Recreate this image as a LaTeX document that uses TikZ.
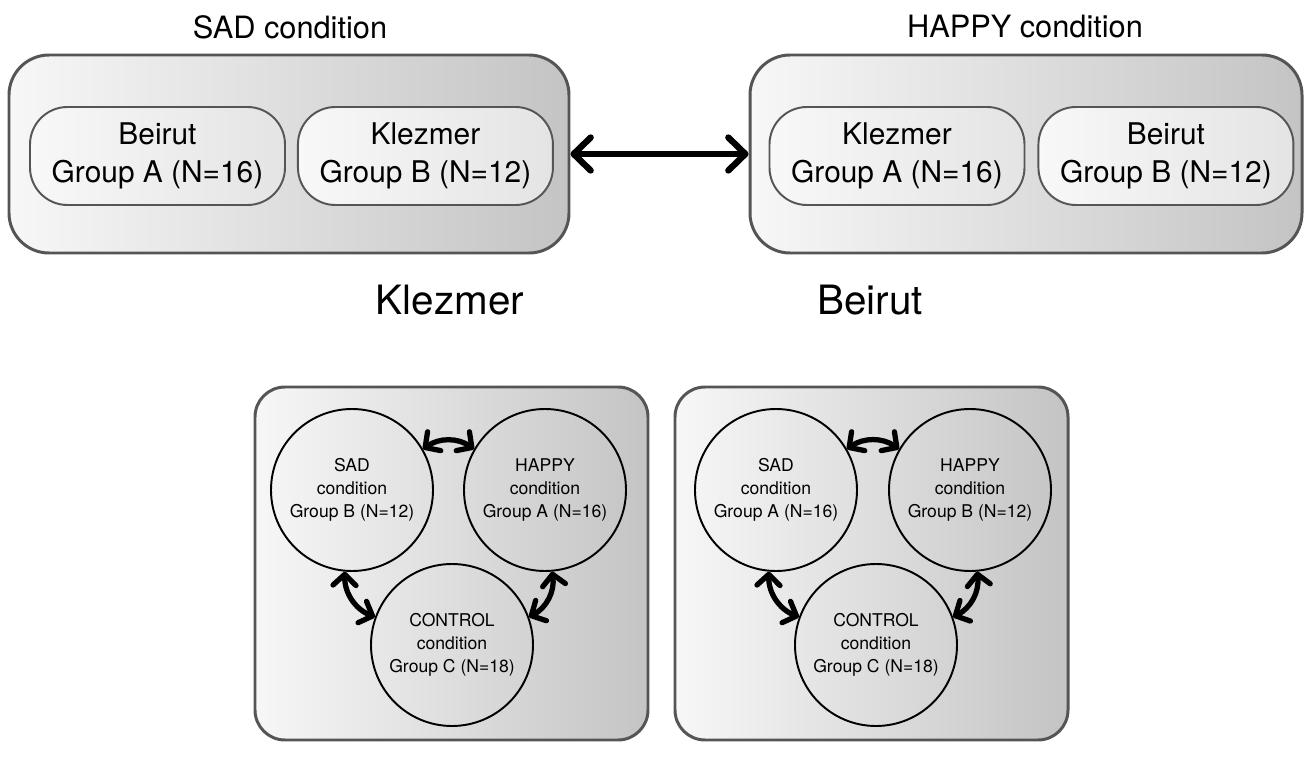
\documentclass[tikz,border=0pt]{standalone}
\usepackage{fontspec}
\setmainfont{TeX Gyre Heros}
\usetikzlibrary{positioning,arrows.meta}
\definecolor{boxline}{HTML}{555555}
\definecolor{boxlight}{HTML}{F7F7F7}
\definecolor{boxdark}{HTML}{C4C4C4}
\definecolor{pilllight}{HTML}{F8F8F8}
\definecolor{pilldark}{HTML}{E4E4E4}
\tikzset{
  condbox/.style={draw=boxline, line width=1.7pt, rounded corners=0.8cm,
    left color=boxlight, right color=boxdark,
    minimum width=11.2cm, minimum height=3.96cm},
  musicbox/.style={draw=boxline, line width=1.7pt, rounded corners=0.6cm,
    left color=boxlight, right color=boxdark,
    minimum width=7.86cm, minimum height=7.06cm},
  grouppill/.style={draw=boxline, line width=1.1pt, rounded corners=0.75cm,
    left color=pilllight, right color=pilldark, align=center,
    minimum width=5.1cm, minimum height=1.96cm, inner sep=0pt,
    font=\fontsize{17}{21.5}\selectfont},
  groupcirc/.style={circle, draw=black, line width=1.1pt, minimum size=3.24cm,
    inner sep=0pt, align=center, font=\fontsize{10}{13}\selectfont},
  condtitle/.style={font=\fontsize{17.5}{21}\selectfont},
  musictitle/.style={font=\fontsize{23}{28}\selectfont},
  bigarrow/.style={line width=3.6pt,
    {Straight Barb[length=0.34cm,width=0.66cm,round]}-{Straight Barb[length=0.34cm,width=0.66cm,round]}},
  looparrow/.style={line width=3pt,
    {Straight Barb[length=0.22cm,width=0.46cm,round]}-{Straight Barb[length=0.22cm,width=0.46cm,round]}}
}

\begin{document}
\begin{tikzpicture}
  \useasboundingbox (0,0) rectangle (26.2,15.14);
  % top: conditions
  \node[condbox] (sadbox) at (5.78,12.06) {};
  \node[condbox, minimum width=11.04cm] (happybox) at (20.52,12.06) {};
  \node[condtitle] (sadtitle) at (5.8,14.6) {SAD condition};
  \node[condtitle] (happytitle) at (20.5,14.6) {HAPPY condition};
  \node[grouppill] (sadbeirut) at (3.15,12.02) {Beirut\\Group A (N=16)};
  \node[grouppill, right=0.22cm of sadbeirut] (sadklezmer) {Klezmer\\Group B (N=12)};
  \node[grouppill] (happyklezmer) at (17.94,12.02) {Klezmer\\Group A (N=16)};
  \node[grouppill, right=0.24cm of happyklezmer] (happybeirut) {Beirut\\Group B (N=12)};
  \draw[bigarrow] (sadbox.east) -- (happybox.west);

  % bottom: music
  \node[musicbox] (klezbox) at (9.03,3.87) {};
  \node[musicbox] (beirbox) at (17.43,3.87) {};
  \node[musictitle] (kleztitle) at (9.0,9.14) {Klezmer};
  \node[musictitle] (beirtitle) at (17.4,9.14) {Beirut};
  % klezmer circles
  \node[groupcirc] (ksad) at (7.04,5.34) {SAD\\condition\\Group B (N=12)};
  \node[groupcirc] (khappy) at (10.9,5.34) {HAPPY\\condition\\Group A (N=16)};
  \node[groupcirc] (kcontrol) at (9.04,2.24) {CONTROL\\condition\\Group C (N=18)};
  % beirut circles
  \node[groupcirc] (bsad) at (15.52,5.34) {SAD\\condition\\Group A (N=16)};
  \node[groupcirc] (bhappy) at (19.4,5.34) {HAPPY\\condition\\Group B (N=12)};
  \node[groupcirc] (bcontrol) at (17.52,2.24) {CONTROL\\condition\\Group C (N=18)};
  % arrows
  \draw[looparrow] (ksad.30) to[bend left=35] (khappy.150);
  \draw[looparrow] (ksad.265) to[bend right=35] (kcontrol.160);
  \draw[looparrow] (khappy.275) to[bend left=35] (kcontrol.20);
  \draw[looparrow] (bsad.30) to[bend left=35] (bhappy.150);
  \draw[looparrow] (bsad.265) to[bend right=35] (bcontrol.160);
  \draw[looparrow] (bhappy.275) to[bend left=35] (bcontrol.20);
\end{tikzpicture}
\end{document}
